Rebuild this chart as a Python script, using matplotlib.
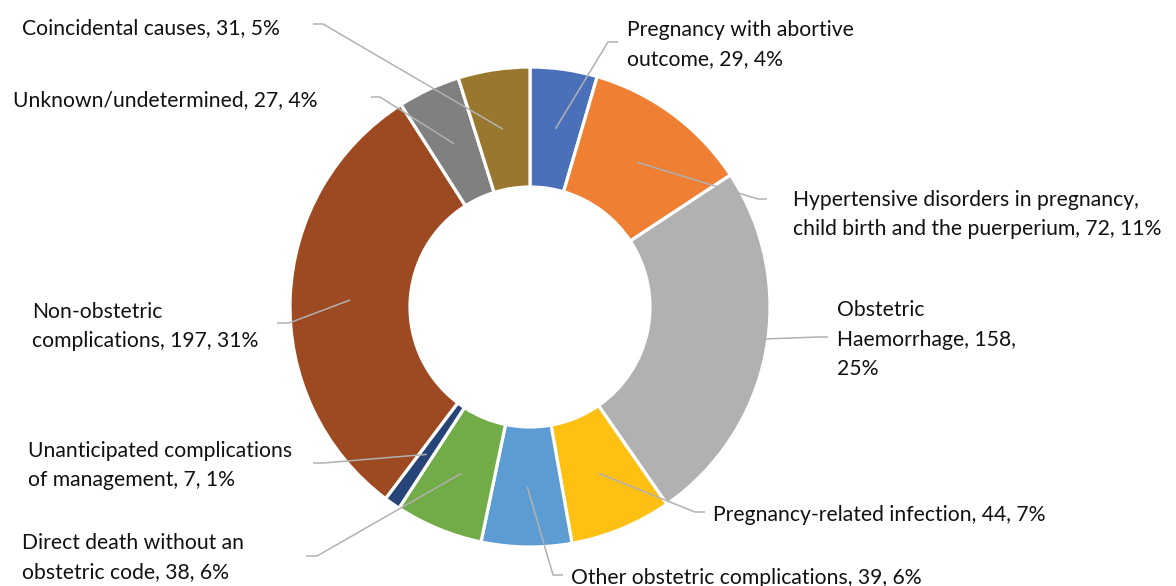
import numpy as np
import matplotlib
matplotlib.use("Agg")
import matplotlib.pyplot as plt

# ---- data ----
categories = [
    "Pregnancy with abortive outcome",
    "Hypertensive disorders in pregnancy, child birth and the puerperium",
    "Obstetric Haemorrhage",
    "Pregnancy-related infection",
    "Other obstetric complications",
    "Direct death without an obstetric code",
    "Unanticipated complications of management",
    "Non-obstetric complications",
    "Unknown/undetermined",
    "Coincidental causes",
]
values = [29, 72, 158, 44, 39, 38, 7, 197, 27, 31]
percents = ["4%", "11%", "25%", "7%", "6%", "6%", "1%", "31%", "4%", "5%"]
colors = ["#4A70BA", "#EE7F33", "#B1B1B2", "#FDC013", "#5D9BD3",
          "#71AC48", "#264478", "#9D4A22", "#808080", "#99772F"]

# wrapped label texts as shown in the chart
label_texts = [
    "Pregnancy with abortive\noutcome, 29, 4%",
    "Hypertensive disorders in pregnancy,\nchild birth and the puerperium, 72, 11%",
    "Obstetric\nHaemorrhage, 158,\n25%",
    "Pregnancy-related infection, 44, 7%",
    "Other obstetric complications, 39, 6%",
    "Direct death without an\nobstetric code, 38, 6%",
    "Unanticipated complications\nof management, 7, 1%",
    "Non-obstetric\ncomplications, 197, 31%",
    "Unknown/undetermined, 27, 4%",
    "Coincidental causes, 31, 5%",
]

# ---- layout (pixel coordinates, y downward; text y = last-line baseline) ----
W, H = 1176, 586
cx, cy = 530, 307
R_out, R_in = 240, 120
text_pos = [(627, 65), (793, 235), (837, 375), (713, 521), (571, 584),
            (22, 578), (28, 486), (32, 347), (13, 106), (22, 34)]
elbows = [(608, 42), (758, 199), (818, 337), (695, 512), (553, 575),
          (317, 556), (323, 463), (289, 323), (380, 97), (323, 24)]
ends = [(618, 42), (767, 199), (828, 337), (705, 512), (563, 575),
        (306, 556), (313, 463), (277, 323), (371, 97), (313, 24)]

plt.rcParams['font.family'] = ['Lato', 'DejaVu Sans']
fig = plt.figure(figsize=(W / 100, H / 100), dpi=100)
ax = fig.add_axes([0, 0, 1, 1])

ax.pie(values, colors=colors, center=(cx, cy), radius=R_out,
       startangle=-90, counterclock=True,
       wedgeprops=dict(width=R_out - R_in, edgecolor='white', linewidth=2.3),
       frame=True)
ax.set_xlim(0, W)
ax.set_ylim(H, 0)
ax.set_aspect('equal')
ax.axis('off')

total = sum(values)
cum = np.cumsum([0] + values)
r_mid = (R_out + R_in) / 2
for i, v in enumerate(values):
    phi = 2 * np.pi * (cum[i] + v / 2) / total
    px = cx + r_mid * np.sin(phi)
    py = cy - r_mid * np.cos(phi)
    ex, ey = elbows[i]
    fx, fy = ends[i]
    ax.plot([px, ex, fx], [py, ey, fy], color='#B1B1B2', lw=1.1,
            solid_capstyle='butt', zorder=5)
    tx, ty = text_pos[i]
    ax.text(tx, ty, label_texts[i], ha='left', va='baseline', fontsize=15.2,
            color='#111111', linespacing=1.58, zorder=6)

fig.savefig("out.png", dpi=100)
